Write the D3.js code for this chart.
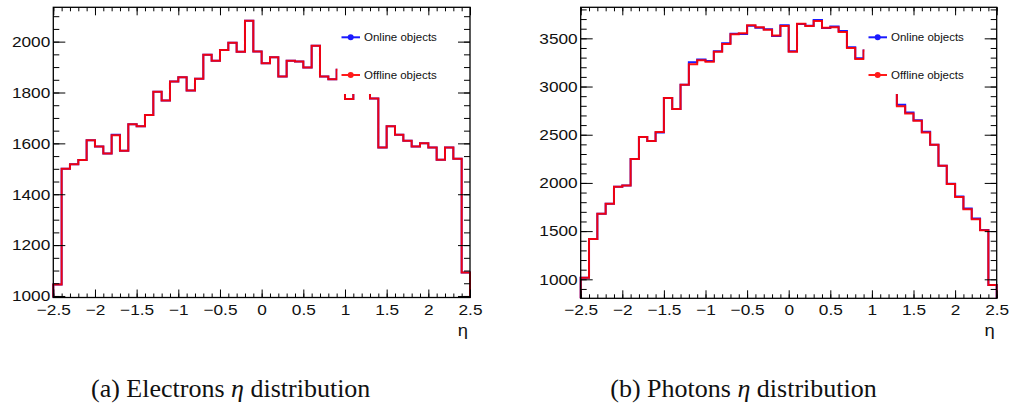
<!DOCTYPE html>
<html>
<head>
<meta charset="utf-8">
<script src="https://cdn.jsdelivr.net/npm/d3@7"></script>
<style>
  body { margin: 0; background: #fff; }
  svg { display: block; }
</style>
</head>
<body>
<svg id="chart" width="1016" height="408"></svg>
<script>
// histogram binning, eta from -2.5 to 2.5 in 50 bins
var nBins = 50, etaMin = -2.5, etaMax = 2.5;
var etaLow = d3.range(nBins).map(function(i) { return etaMin + i * (etaMax - etaMin) / nBins; });

// electrons, bin contents
var electronsOnline = [1045, 1500, 1518, 1535, 1612, 1588, 1560, 1634, 1571, 1675,
                       1667, 1712, 1803, 1769, 1843, 1860, 1808, 1854, 1948, 1925,
                       1967, 1996, 1960, 2082, 1961, 1915, 1939, 1863, 1925, 1922,
                       1898, 1984, 1863, 1852, 1889, 1774, 1830, 1810, 1776, 1584,
                       1667, 1634, 1610, 1588, 1600, 1584, 1536, 1584, 1540, 1092];
var electronsOffline = [1045, 1500, 1518, 1535, 1612, 1588, 1560, 1632, 1571, 1675,
                        1667, 1712, 1803, 1769, 1843, 1860, 1808, 1854, 1948, 1925,
                        1967, 1996, 1960, 2082, 1961, 1915, 1939, 1863, 1925, 1922,
                        1898, 1984, 1863, 1852, 1889, 1774, 1830, 1810, 1776, 1584,
                        1667, 1634, 1610, 1588, 1600, 1584, 1536, 1584, 1540, 1092];

// photons, bin contents
var photonsOnline = [1017, 1418, 1681, 1785, 1961, 1972, 2248, 2476, 2435, 2522,
                     2881, 2767, 3019, 3252, 3280, 3265, 3366, 3450, 3548, 3545,
                     3631, 3611, 3594, 3524, 3635, 3366, 3649, 3631, 3690, 3607,
                     3622, 3575, 3408, 3293, 3375, 3250, 3150, 3000, 2810, 2730,
                     2650, 2530, 2397, 2179, 1992, 1860, 1734, 1630, 1512, 941];
var photonsOffline = [1017, 1418, 1681, 1785, 1961, 1972, 2248, 2476, 2435, 2528,
                      2881, 2767, 3019, 3232, 3272, 3258, 3360, 3440, 3542, 3552,
                      3636, 3614, 3588, 3530, 3628, 3360, 3652, 3628, 3680, 3610,
                      3615, 3566, 3400, 3285, 3375, 3250, 3150, 3000, 2796, 2720,
                      2644, 2522, 2395, 2177, 1990, 1855, 1728, 1624, 1510, 941];

var legendLabels = ["Online objects", "Offline objects"];
var legendColors = ["#1a1aff", "#ff1a1a"];

var captions = ["(a) Electrons ", "(b) Photons "];

var xMajor = d3.range(-2.5, 2.51, 0.5);
var xMinor = d3.range(-2.5, 2.51, 0.1);

var svg = d3.select("#chart");
var sansFont = "'Liberation Sans', Arial, Helvetica, sans-serif";
var stretch = 1.15;

function drawPanel(p) {
    var x = d3.scaleLinear().domain([etaMin, etaMax]).range([p.left, p.right]);
    var y = d3.scaleLinear().domain(p.yDomain).range([p.bottom, p.top]);
    var g = svg.append("g");

    // step path for a histogram
    function histPath(values) {
        var pts = [[x(etaMin), y(p.yDomain[0])]];
        values.forEach(function(v, i) {
            var lo = etaLow[i], hi = lo + (etaMax - etaMin) / nBins;
            pts.push([x(lo), y(v)]);
            pts.push([x(hi), y(v)]);
        });
        pts.push([x(etaMax), y(p.yDomain[0])]);
        return d3.line()(pts);
    }

    g.append("path")
        .attr("d", histPath(p.online))
        .attr("fill", "none")
        .attr("stroke", legendColors[0])
        .attr("stroke-width", 2);
    g.append("path")
        .attr("d", histPath(p.offline))
        .attr("fill", "none")
        .attr("stroke", "#ff0000")
        .attr("stroke-opacity", 0.93)
        .attr("stroke-width", 2);

    // legend box hides the histogram behind it
    g.append("rect")
        .attr("x", p.legX)
        .attr("y", 18)
        .attr("width", 108)
        .attr("height", 76)
        .attr("fill", "white");

    legendLabels.forEach(function(lab, i) {
        var ly = [37.3, 75][i];
        g.append("line")
            .attr("x1", p.legX + 4).attr("x2", p.legX + 22.5)
            .attr("y1", ly).attr("y2", ly)
            .attr("stroke", legendColors[i]).attr("stroke-width", 2);
        g.append("circle")
            .attr("cx", p.legX + 13.2).attr("cy", ly).attr("r", 3)
            .attr("fill", legendColors[i]);
        g.append("text")
            .attr("x", p.legX + 26.5).attr("y", ly)
            .attr("dy", "0.35em")
            .attr("font-family", sansFont)
            .attr("font-size", "11.5px")
            .attr("fill", "#111")
            .text(lab);
    });

    // axes: major and minor ticks on all four sides, pointing inwards
    var bottomMajor = g.append("g")
        .attr("transform", "translate(0," + p.bottom + ")")
        .call(d3.axisBottom(x).tickValues(xMajor).tickSize(-8).tickSizeOuter(0).tickPadding(6.5)
            .tickFormat(d3.format("")));
    g.append("g")
        .attr("transform", "translate(0," + p.bottom + ")")
        .call(d3.axisBottom(x).tickValues(xMinor).tickSize(-4).tickSizeOuter(0).tickFormat(""));
    g.append("g")
        .attr("transform", "translate(0," + p.top + ")")
        .call(d3.axisTop(x).tickValues(xMajor).tickSize(-8).tickSizeOuter(0).tickFormat(""));
    g.append("g")
        .attr("transform", "translate(0," + p.top + ")")
        .call(d3.axisTop(x).tickValues(xMinor).tickSize(-4).tickSizeOuter(0).tickFormat(""));

    var leftMajor = g.append("g")
        .attr("transform", "translate(" + p.left + ",0)")
        .call(d3.axisLeft(y).tickValues(p.yMajor).tickSize(-12).tickSizeOuter(0).tickPadding(3)
            .tickFormat(d3.format("d")));
    g.append("g")
        .attr("transform", "translate(" + p.left + ",0)")
        .call(d3.axisLeft(y).tickValues(p.yMinor).tickSize(-6).tickSizeOuter(0).tickFormat(""));
    g.append("g")
        .attr("transform", "translate(" + p.right + ",0)")
        .call(d3.axisRight(y).tickValues(p.yMajor).tickSize(-12).tickSizeOuter(0).tickFormat(""));
    g.append("g")
        .attr("transform", "translate(" + p.right + ",0)")
        .call(d3.axisRight(y).tickValues(p.yMinor).tickSize(-6).tickSizeOuter(0).tickFormat(""));

    g.selectAll(".domain").remove();
    g.selectAll(".tick line").attr("stroke", "#000").attr("stroke-width", 1);

    bottomMajor.selectAll("text")
        .attr("font-family", sansFont)
        .attr("font-size", "15px")
        .attr("fill", "#111")
        .attr("transform", "scale(" + stretch + ",1)");
    leftMajor.selectAll("text")
        .attr("font-family", sansFont)
        .attr("font-size", "15px")
        .attr("fill", "#111")
        .attr("x", -3 / stretch)
        .attr("transform", "scale(" + stretch + ",1)");

    // frame
    g.append("rect")
        .attr("x", p.left).attr("y", p.top)
        .attr("width", p.right - p.left).attr("height", p.bottom - p.top)
        .attr("fill", "none")
        .attr("stroke", "#000")
        .attr("stroke-width", 1.3);

    // x title
    g.append("text")
        .attr("transform", "translate(" + (p.right - 2) + ",336) scale(" + stretch + ",1)")
        .attr("text-anchor", "end")
        .attr("font-family", sansFont)
        .attr("font-size", "16px")
        .attr("fill", "#111")
        .text("η");

    // caption under the panel
    var cap = svg.append("text")
        .attr("x", p.capX).attr("y", 397)
        .attr("text-anchor", "middle")
        .attr("font-family", "'Liberation Serif', 'Times New Roman', serif")
        .attr("font-size", "26px")
        .attr("fill", "#111");
    cap.append("tspan").text(p.caption);
    cap.append("tspan").attr("font-style", "italic").text("η");
    cap.append("tspan").text(" distribution");
}

drawPanel({
    left: 53.3, right: 470, top: 7.3, bottom: 297.5,
    yDomain: [994, 2135],
    yMajor: d3.range(1000, 2001, 200),
    yMinor: d3.range(1000, 2101, 50),
    online: electronsOnline, offline: electronsOffline,
    legX: 337.5,
    caption: captions[0], capX: 230.7
});

drawPanel({
    left: 580.7, right: 996.7, top: 7.3, bottom: 298.3,
    yDomain: [803, 3822],
    yMajor: d3.range(1000, 3501, 500),
    yMinor: d3.range(900, 3801, 100),
    online: photonsOnline, offline: photonsOffline,
    legX: 864.5,
    caption: captions[1], capX: 743.5
});
</script>
</body>
</html>
